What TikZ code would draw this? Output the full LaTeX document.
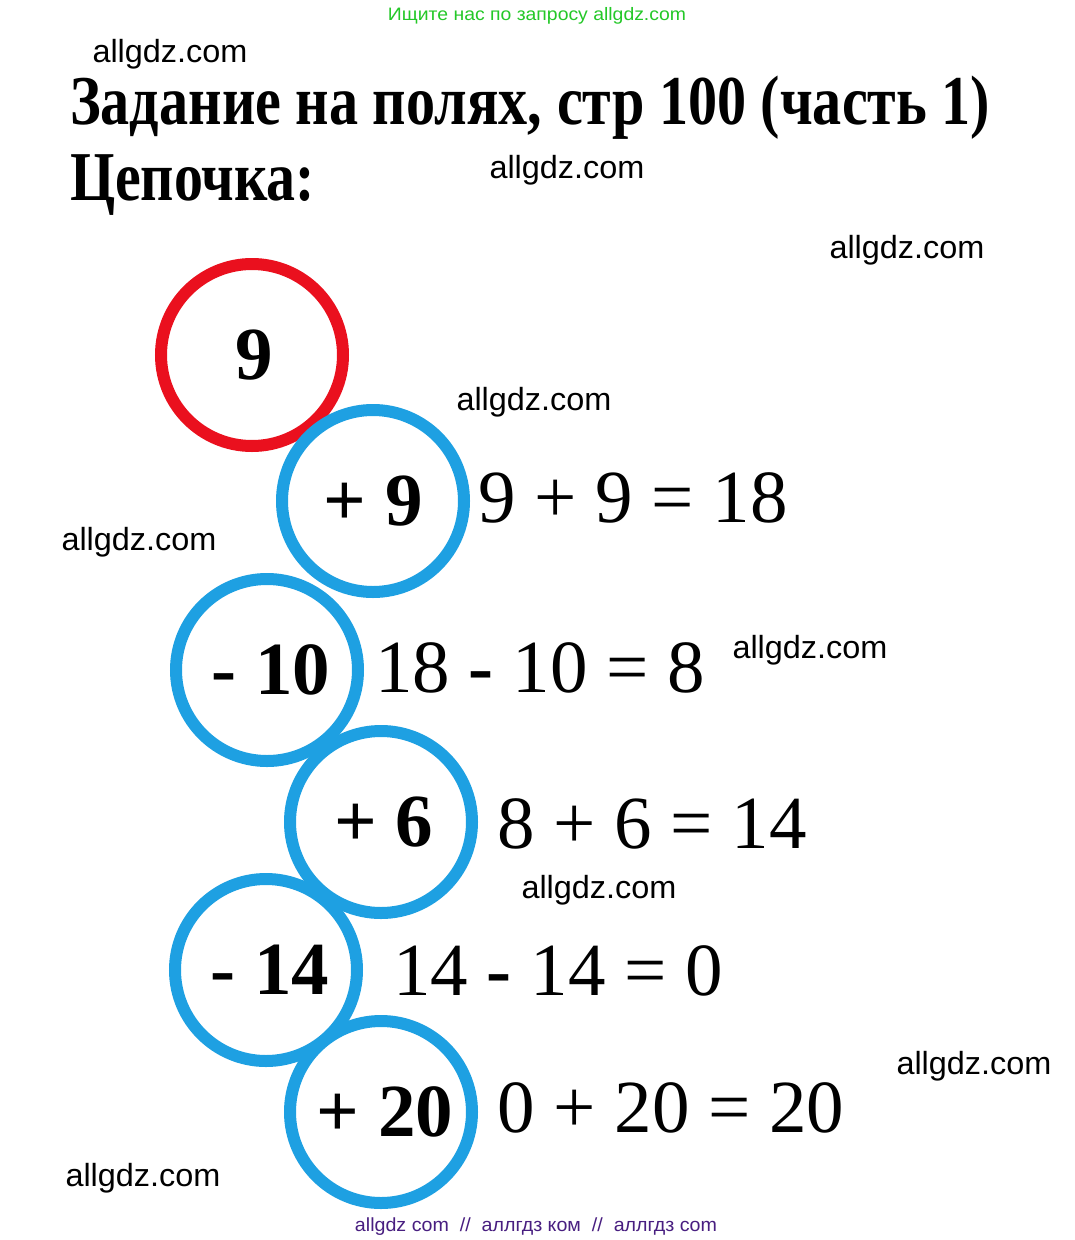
\documentclass[tikz,border=0pt]{standalone}
\usepackage{fontspec}
\usepackage{graphicx}
\setmainfont{Liberation Serif}
\newfontfamily\wmfont{Liberation Sans}
\definecolor{cblue}{RGB}{30,160,226}
\definecolor{cred}{RGB}{234,16,30}
\definecolor{cgreen}{RGB}{36,200,40}
\definecolor{cpurple}{RGB}{72,30,128}
\newcommand{\wmtext}{\resizebox{155pt}{\height}{allgdz.com}}
\begin{document}
\begin{tikzpicture}[x=1pt,y=-1pt,
  ring/.style={circle, draw=cblue, line width=12pt, minimum size=182pt, inner sep=0pt,
    font=\fontsize{75}{90}\selectfont\bfseries},
  redring/.style={ring, draw=cred},
  eqtext/.style={anchor=base west, inner sep=0pt, font=\fontsize{75}{90}\selectfont},
  wm/.style={anchor=base, inner sep=0pt, font=\wmfont\fontsize{32}{36}\selectfont},
  title/.style={anchor=base west, inner sep=0pt, font=\fontsize{70}{84}\selectfont\bfseries}]
\useasboundingbox (0,0) rectangle (1075,1240);
\fill[white] (0,0) rectangle (1075,1240);

% header and footer
\node[anchor=base, inner sep=0pt, text=cgreen, font=\wmfont\fontsize{18}{22}\selectfont] (top) at (537,20)
  {\resizebox{298pt}{\height}{Ищите нас по запросу allgdz.com}};
\node[anchor=base, inner sep=0pt, text=cpurple, font=\wmfont\fontsize{19}{23}\selectfont] (bottom) at (536,1231)
  {\resizebox{362pt}{\height}{allgdz com\ \ //\ \ аллгдз ком\ \ //\ \ аллгдз com}};

% titles
\node[title] (t1) at (70,124) {\resizebox{920pt}{\height}{Задание на полях, стр 100 (часть 1)}};
\node[title] (t2) at (70,200) {\resizebox{245pt}{\height}{Цепочка:}};

% circles
\node[redring] (c0) at (252,355) {\hspace*{5pt}9};
\node[ring] (c1) at (373,501) {+ 9};
\node[ring] (c2) at (267,670) {\hspace*{8pt}- 10};
\node[ring] (c3) at (381,822) {\hspace*{6pt}+ 6};
\node[ring] (c4) at (266,970) {\hspace*{8pt}- 14};
\node[ring] (c5) at (381,1112) {\hspace*{8pt}+ 20};

% equations
\node[eqtext] (e1) at (478,522) {9 + 9 = 18};
\node[eqtext] (e2) at (375,692) {18 {\bfseries -} 10 = 8};
\node[eqtext] (e3) at (497,848) {8 + 6 = 14};
\node[eqtext] (e4) at (393,995) {14 {\bfseries -} 14 = 0};
\node[eqtext] (e5) at (497,1132) {0 + 20 = 20};

% watermarks
\node[wm] (w1) at (170,62) {\wmtext};
\node[wm] (w2) at (567,178) {\wmtext};
\node[wm] (w3) at (907,258) {\wmtext};
\node[wm] (w4) at (534,410) {\wmtext};
\node[wm] (w5) at (139,550) {\wmtext};
\node[wm] (w6) at (810,658) {\wmtext};
\node[wm] (w7) at (599,898) {\wmtext};
\node[wm] (w8) at (974,1074) {\wmtext};
\node[wm] (w9) at (143,1186) {\wmtext};
\end{tikzpicture}
\end{document}
